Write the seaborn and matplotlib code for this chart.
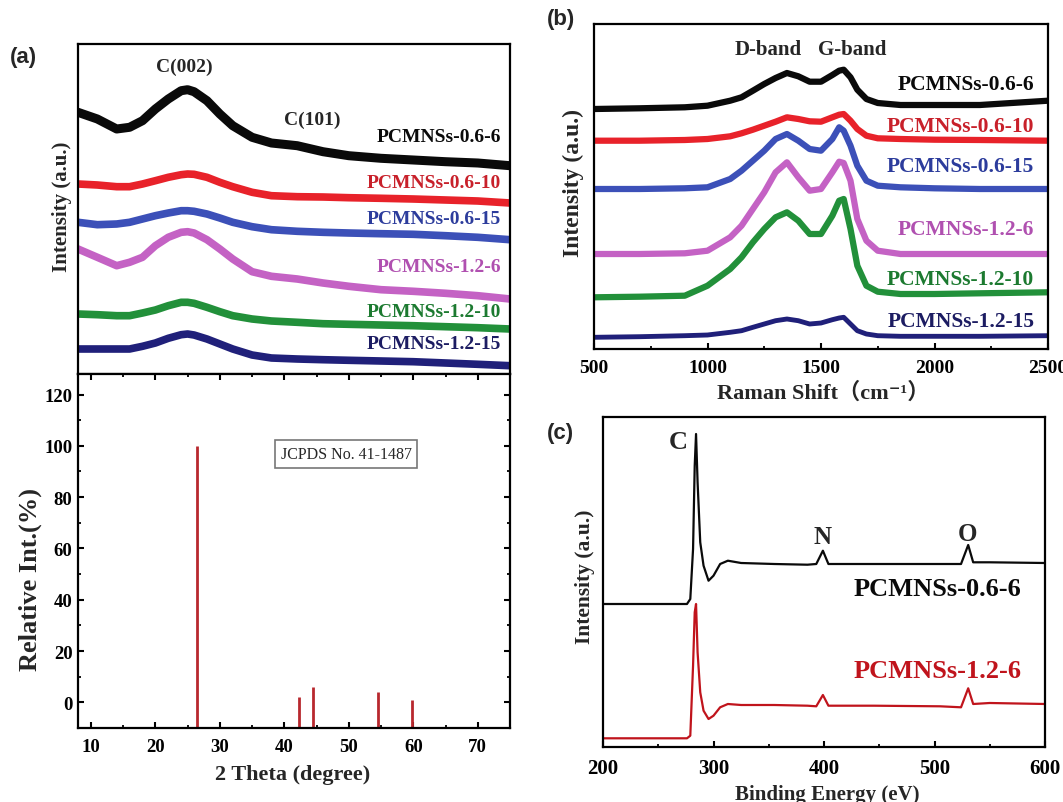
import numpy as np
import pandas as pd
import matplotlib
matplotlib.use("Agg")
import matplotlib.pyplot as plt
import seaborn as sns
from matplotlib.ticker import MultipleLocator

# ---------------- data ----------------
# (a) XRD patterns (offset, arbitrary units)
xrd_theta = [8.0, 11, 14, 16, 18, 20, 22, 24, 25, 26, 28, 30, 32, 35, 38, 42, 46, 50, 55, 60, 65, 70, 75]
xrd_06_6 = [261.7, 255, 245, 246.7, 253.3, 265, 275, 283.3, 284.3, 282.3, 273.3, 260, 248.3, 236.7, 231, 228.3,
            222.3, 218.3, 215.7, 214, 212.3, 211, 208.3]
xrd_06_10 = [190, 189, 187.3, 187.3, 190, 193.3, 196.7, 199.3, 200, 199.7, 196.7, 191.7, 187.3, 181.7, 178.3, 177.3,
             177, 176.3, 175.7, 175, 174, 173, 171]
xrd_06_15 = [151.7, 149.3, 150, 151.7, 155, 158.3, 161, 163.3, 163.3, 162.7, 160, 156, 151.7, 147.3, 144.3, 142.7,
             141.7, 141, 140.3, 139.7, 138.3, 136.7, 134.3]
xrd_12_6 = [125, 116.7, 108.3, 111.7, 116.7, 128.3, 136.7, 141.7, 142.3, 141, 134.3, 125, 115, 102.3, 97.7, 95,
            91, 87.7, 84.3, 82.7, 80.7, 78.3, 75]
xrd_12_10 = [60, 59.3, 58.3, 58.3, 61, 64, 68.3, 71.7, 71.7, 70.7, 66.7, 62.3, 58.3, 55, 53, 51.7, 50.3, 49.7, 49,
             48.3, 47.3, 46.3, 45]
xrd_12_15 = [25, 25, 25, 25, 27.7, 31, 35.7, 39.3, 40, 39, 35, 30, 25, 19, 16, 15, 14.3, 13.7, 13, 12.3, 11, 9.7, 8.3]

# (a) reference pattern JCPDS No. 41-1487
ref_theta = [26.4, 42.2, 44.4, 54.6, 59.8]
ref_int = [100, 2, 6, 4, 1]

# (b) Raman spectra (offset, arbitrary units)
raman_x = [500, 700, 900, 1000, 1100, 1150, 1200, 1250, 1300, 1350, 1400, 1450, 1500, 1550, 1580, 1600, 1630,
           1660, 1700, 1750, 1850, 2000, 2200, 2500]
raman_06_6 = [240, 240.7, 241.7, 243.3, 248.3, 251.7, 258.3, 265, 271, 276, 272.7, 267.3, 267.3, 274, 278.3, 279.3,
              271.7, 259.3, 250, 246, 244, 244, 244, 248.3]
raman_06_10 = [208.3, 208.3, 209, 210, 212.7, 215.7, 219.3, 223.3, 227.3, 231.7, 230, 227.7, 227.3, 231.7, 234.3,
               235, 228.3, 220, 213.3, 210.7, 210, 209.3, 209, 208.3]
raman_06_15 = [160, 160, 160.7, 161.7, 170, 178.3, 188.3, 198.3, 210, 215, 208.3, 200, 198.3, 210, 221.7, 218.3,
               203.3, 183.3, 168.3, 163.3, 161.7, 160.7, 160, 160]
raman_12_6 = [95, 95, 95.7, 98.3, 111.7, 123.3, 140, 156.7, 176.7, 186.7, 171.7, 158.3, 160, 176.7, 187.3, 186,
              168.3, 130, 108.3, 98.3, 95, 95, 95, 95]
raman_12_10 = [51.7, 52.3, 53.3, 63.3, 80, 91.7, 106.7, 120, 131.7, 136.7, 128.3, 115, 115, 133.3, 148.3, 150,
               120, 83.3, 63.3, 57.3, 55, 55, 55.7, 56.7]
raman_12_15 = [11.7, 12.3, 13.3, 14, 16.7, 18.3, 21.7, 25, 28.3, 30, 28.3, 25, 26, 29.3, 31, 31.7, 25, 18.3, 15,
               13.3, 12.7, 12.7, 12.7, 13.3]

# (c) XPS survey spectra (offset, arbitrary units)
xps_x = [200, 250, 276, 279, 281.5, 283, 284.2, 285.6, 288, 291, 295.5, 300, 306, 313, 325, 355, 385, 393, 399,
         404, 415, 445, 505, 524, 530.5, 535, 550, 600]
xps_06_6 = [143, 143, 143, 148, 198, 281.3, 313, 264.7, 204.7, 181.3, 166.3, 171.3, 183, 186.3, 184, 183, 182.3,
            183, 196.3, 183, 183, 183, 183, 183, 202, 184.7, 184.7, 184]
xps_12_6 = [8.7, 8.7, 8.7, 11.3, 81.3, 134.7, 143, 94.7, 54.7, 36.3, 28, 31.3, 39.7, 43, 42, 42, 41.3, 40.7, 52,
            41.3, 41.3, 41.3, 40.7, 39.7, 58.7, 43, 44, 43]

sample_names = ["PCMNSs-0.6-6", "PCMNSs-0.6-10", "PCMNSs-0.6-15", "PCMNSs-1.2-6", "PCMNSs-1.2-10", "PCMNSs-1.2-15"]
line_colors = ["#0a0a0a", "#e8222a", "#3c50b8", "#c462c4", "#22903a", "#20207a"]
text_colors = ["#0a0a0a", "#c8202a", "#2c3c9c", "#b050b0", "#1c7a30", "#1c1c62"]

# ---------------- style ----------------
sns.set_theme(style="ticks")
FAM = ["Liberation Serif", "Noto Sans CJK SC", "DejaVu Sans"]
plt.rcParams["font.family"] = FAM
plt.rcParams["font.weight"] = "bold"
plt.rcParams["axes.labelweight"] = "bold"
plt.rcParams["axes.linewidth"] = 1.6
plt.rcParams["axes.edgecolor"] = "black"

W, H = 1063, 803
fig = plt.figure(figsize=(W / 100, H / 100), dpi=100)


def px_axes(l, t, r, b):
    return fig.add_axes([l / W, 1 - b / H, (r - l) / W, (b - t) / H])


def lab(ax, box, x_px, y_px, which):
    l, t, r, b = box
    fx = (x_px - l) / (r - l)
    fy = (b - y_px) / (b - t)
    if which == "x":
        ax.xaxis.set_label_coords(fx, fy)
    else:
        ax.yaxis.set_label_coords(fx, fy)


def tick_style(ax):
    ax.tick_params(which="major", direction="in", length=4.5, width=1.5, colors="black")
    ax.tick_params(which="minor", direction="in", length=2.5, width=1.3, colors="black")
    for lbl in ax.get_xticklabels() + ax.get_yticklabels():
        lbl.set_fontweight("bold")


# ---------------- (a) top: XRD ----------------
box_at = (78, 45, 510, 375)
ax_at = px_axes(*box_at)
xrd_series = [xrd_06_6, xrd_06_10, xrd_06_15, xrd_12_6, xrd_12_10, xrd_12_15]
for i, ys in enumerate(xrd_series):
    sns.lineplot(x=xrd_theta, y=ys, ax=ax_at, color=line_colors[i], lw=6.5 if i == 0 else 5.5,
                 errorbar=None, sort=False)
ax_at.set_xlim(8, 75)
ax_at.set_ylim(0, 330)
ax_at.set_xticks([])
ax_at.set_yticks([])
ax_at.set_xlabel("")
ax_at.set_ylabel("Intensity (a.u.)", fontsize=15, fontweight="bold", va="center", ha="center")
lab(ax_at, box_at, 62, 207, "y")
xrd_label_y = [238, 192, 155, 108, 62, 30]
for i, name in enumerate(sample_names):
    ax_at.text(73.6, xrd_label_y[i], name, color=text_colors[i], fontsize=14, fontweight="bold",
               ha="right", va="center")
ax_at.text(24.5, 308, "C(002)", fontsize=14, fontweight="bold", ha="center", va="center")
ax_at.text(44.4, 255, "C(101)", fontsize=14, fontweight="bold", ha="center", va="center")

# ---------------- (a) bottom: reference pattern ----------------
box_ab = (78, 375, 510, 729)
ax_ab = px_axes(*box_ab)
ax_ab.set_xlim(8, 75)
ax_ab.set_ylim(-10, 128)
ax_ab.vlines(ref_theta, -10, ref_int, color="#b8282e", lw=2.0)
ax_ab.xaxis.set_major_locator(MultipleLocator(10))
ax_ab.xaxis.set_minor_locator(MultipleLocator(5))
ax_ab.set_yticks([0, 20, 40, 60, 80, 100, 120])
ax_ab.yaxis.set_minor_locator(MultipleLocator(10))
ax_ab.tick_params(axis="both", which="both", top=True, right=True)
ax_ab.tick_params(axis="x", labelsize=13.5, pad=7)
ax_ab.tick_params(axis="y", labelsize=13.5, pad=4)
tick_style(ax_ab)
ax_ab.set_xlabel("2 Theta (degree)", fontsize=16, fontweight="bold", va="center", ha="center")
lab(ax_ab, box_ab, 293, 775, "x")
ax_ab.set_ylabel("Relative Int.(%)", fontsize=19, fontweight="bold", va="center", ha="center")
lab(ax_ab, box_ab, 30, 580, "y")
ax_ab.text(49.6, 96.8, "JCPDS No. 41-1487", fontsize=11.5, fontweight="normal", ha="center", va="center",
           bbox=dict(boxstyle="square,pad=0.35", fc="white", ec="#777777", lw=1.2))

# ---------------- (b) Raman ----------------
box_b = (594, 25, 1048, 350)
ax_b = px_axes(*box_b)
raman_series = [raman_06_6, raman_06_10, raman_06_15, raman_12_6, raman_12_10, raman_12_15]
for i, ys in enumerate(raman_series):
    sns.lineplot(x=raman_x, y=ys, ax=ax_b, color=line_colors[i], lw=4.5 if i < 5 else 3.5,
                 errorbar=None, sort=False)
ax_b.set_xlim(500, 2500)
ax_b.set_ylim(0, 325)
ax_b.set_yticks([])
ax_b.xaxis.set_major_locator(MultipleLocator(500))
ax_b.xaxis.set_minor_locator(MultipleLocator(250))
ax_b.tick_params(axis="x", labelsize=14, pad=7)
tick_style(ax_b)
ax_b.set_xlabel("Raman Shift（cm⁻¹）", fontsize=16, fontweight="bold", va="center", ha="center",
                family=FAM)
lab(ax_b, box_b, 823, 393, "x")
ax_b.set_ylabel("Intensity (a.u.)", fontsize=17, fontweight="bold", va="center", ha="center")
lab(ax_b, box_b, 573, 183, "y")
raman_label_y = [265, 223, 183, 120, 70, 28]
for i, name in enumerate(sample_names):
    ax_b.text(2440, raman_label_y[i], name, color=text_colors[i], fontsize=15.5, fontweight="bold",
              ha="right", va="center")
ax_b.text(1267, 300, "D-band", fontsize=15, fontweight="bold", ha="center", va="center")
ax_b.text(1637, 300, "G-band", fontsize=15, fontweight="bold", ha="center", va="center")

# ---------------- (c) XPS ----------------
box_c = (603, 418, 1045, 748)
ax_c = px_axes(*box_c)
sns.lineplot(x=xps_x, y=xps_06_6, ax=ax_c, color="#0a0a0a", lw=1.6, errorbar=None, sort=False)
sns.lineplot(x=xps_x, y=xps_12_6, ax=ax_c, color="#c0141c", lw=1.6, errorbar=None, sort=False)
ax_c.set_xlim(200, 600)
ax_c.set_ylim(0, 330)
ax_c.set_yticks([])
ax_c.xaxis.set_major_locator(MultipleLocator(100))
ax_c.xaxis.set_minor_locator(MultipleLocator(50))
ax_c.tick_params(axis="x", labelsize=15, pad=8)
tick_style(ax_c)
ax_c.set_xlabel("Binding Energy (eV)", fontsize=15, fontweight="bold", va="center", ha="center")
lab(ax_c, box_c, 827, 795, "x")
ax_c.set_ylabel("Intensity (a.u.)", fontsize=15.5, fontweight="bold", va="center", ha="center")
lab(ax_c, box_c, 585, 577, "y")
ax_c.text(503, 158, "PCMNSs-0.6-6", color="#0a0a0a", fontsize=19, fontweight="bold", ha="center", va="center")
ax_c.text(503, 76, "PCMNSs-1.2-6", color="#c0141c", fontsize=19, fontweight="bold", ha="center", va="center")
ax_c.text(268, 305, "C", fontsize=19, fontweight="bold", ha="center", va="center")
ax_c.text(399, 210, "N", fontsize=18, fontweight="bold", ha="center", va="center")
ax_c.text(530, 213, "O", fontsize=18, fontweight="bold", ha="center", va="center")

# ---------------- panel letters ----------------
for txt, x, y in [("(a)", 10, 57), ("(b)", 547, 20), ("(c)", 547, 433)]:
    fig.text(x / W, 1 - y / H, txt, fontsize=16, fontweight="bold", family=["Liberation Sans", "DejaVu Sans"],
             ha="left", va="center")

fig.savefig("out.png", dpi=100)
